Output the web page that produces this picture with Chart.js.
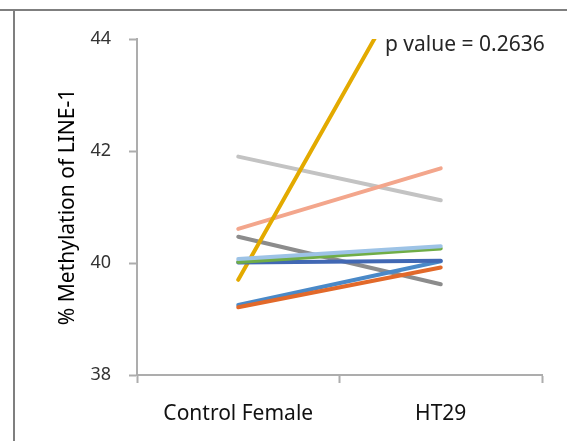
<!DOCTYPE html>
<html>
<head>
<meta charset="utf-8">
<script src="https://cdn.jsdelivr.net/npm/chart.js@4/dist/chart.umd.min.js"></script>
<style>
  html, body { margin: 0; padding: 0; background: #fff; }
  #wrap { position: relative; width: 567px; height: 441px; }
</style>
</head>
<body>
<div id="wrap"><canvas id="myChart" width="567" height="441"></canvas></div>
<script>
const categories = ["Control Female", "HT29"];

// one line per sample, value at Control Female and at HT29
const sampleYellow = [39.70, 46.10];
const sampleLightGray = [41.90, 41.12];
const sampleSalmon = [40.61, 41.69];
const sampleDarkGray = [40.47, 39.62];
const sampleLightBlue = [40.07, 40.30];
const sampleGreen = [40.02, 40.26];
const sampleDarkBlue = [40.01, 40.04];
const sampleBlue = [39.25, 40.03];
const sampleOrange = [39.21, 39.92];

const yTicks = [38, 40, 42, 44];
const pValueText = "p value = 0.2636";

const FONT = "'Noto Sans', sans-serif";

const makeLine = (label, data, color) => ({
  label,
  data,
  borderColor: color,
  backgroundColor: color,
  borderWidth: 4,
  pointRadius: 0,
  tension: 0,
  borderCapStyle: "round",
  clip: 0,
});

// frame lines and the p value note
const decor = {
  id: "decor",
  afterDraw(chart) {
    const ctx = chart.ctx;
    ctx.save();
    ctx.strokeStyle = "#7f7f7f";
    ctx.lineWidth = 2;
    ctx.beginPath();
    ctx.moveTo(0, 10);
    ctx.lineTo(567, 10);
    ctx.moveTo(14, 10);
    ctx.lineTo(14, 441);
    ctx.stroke();

    ctx.fillStyle = "#262626";
    ctx.font = "21px " + FONT;
    ctx.textAlign = "left";
    ctx.textBaseline = "middle";
    ctx.fillText(pValueText, 385, 45);
    ctx.restore();
  },
};

const chart = new Chart(document.getElementById("myChart"), {
  type: "line",
  data: {
    labels: categories,
    datasets: [
      makeLine("Sample 1", sampleLightBlue, "#9dc3e6"),
      makeLine("Sample 2", sampleGreen, "#70ad47"),
      makeLine("Sample 3", sampleDarkBlue, "#4168b4"),
      makeLine("Sample 4", sampleOrange, "#e2692a"),
      makeLine("Sample 5", sampleBlue, "#4a89c8"),
      makeLine("Sample 6", sampleYellow, "#e3aa00"),
      makeLine("Sample 7", sampleSalmon, "#f3a68c"),
      makeLine("Sample 8", sampleDarkGray, "#8c8c8c"),
      makeLine("Sample 9", sampleLightGray, "#c3c3c3"),
    ],
  },
  options: {
    responsive: false,
    animation: false,
    layout: { padding: { top: 39, right: 25, left: 0, bottom: 0 } },
    scales: {
      x: {
        offset: true,
        grid: {
          offset: true,
          drawOnChartArea: false,
          tickLength: 8,
          tickWidth: 2,
          color: "#adadad",
        },
        border: { color: "#adadad", width: 2 },
        ticks: {
          padding: 18,
          color: "#111",
          font: { family: FONT, size: 21 },
          maxRotation: 0,
        },
        afterFit: (scale) => { scale.height = 66; },
      },
      y: {
        min: 38,
        max: 44,
        afterBuildTicks: (scale) => {
          scale.ticks = yTicks.map((v) => ({ value: v }));
        },
        grid: {
          drawOnChartArea: false,
          tickLength: 8,
          tickWidth: 2,
          color: "#adadad",
        },
        border: { color: "#adadad", width: 2 },
        ticks: {
          padding: 18,
          color: "#333",
          font: { family: FONT, size: 18 },
        },
        title: {
          display: true,
          text: "% Methylation of LINE-1",
          color: "#000",
          font: { family: FONT, size: 21 },
          padding: { top: 55, bottom: 0 },
        },
        afterFit: (scale) => { scale.width = 137; },
      },
    },
    plugins: {
      legend: { display: false },
      tooltip: { enabled: false },
    },
  },
  plugins: [decor],
});
</script>
</body>
</html>
